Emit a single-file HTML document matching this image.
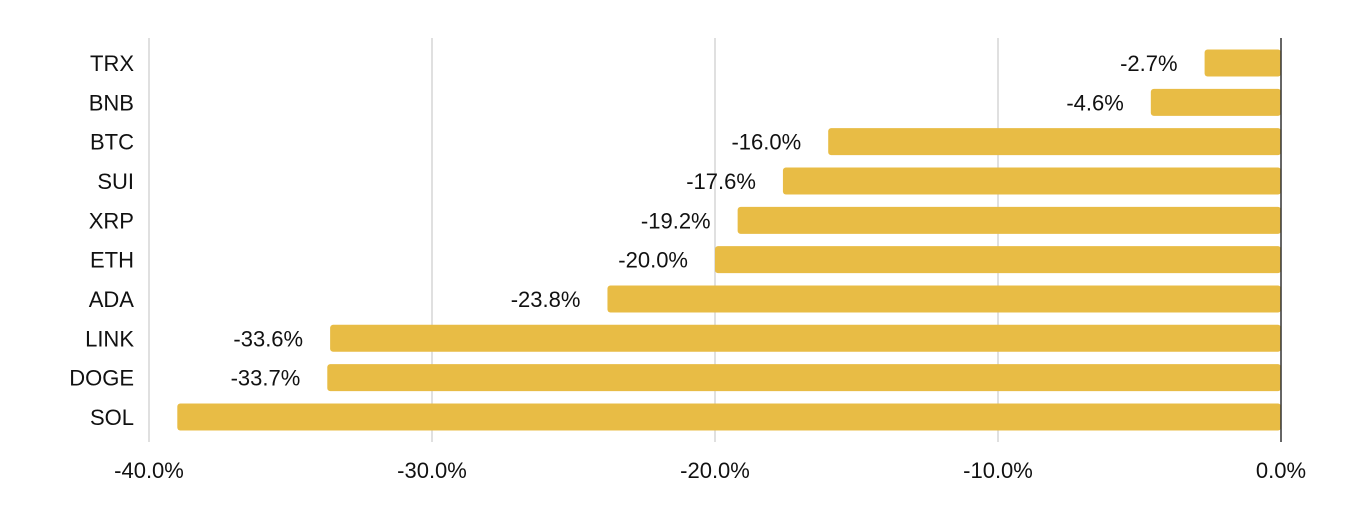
<!DOCTYPE html>
<html><head><meta charset="utf-8"><style>
body{margin:0;background:#fff;font-family:"Liberation Sans",Arial,sans-serif;}
svg{display:block}
</style></head><body>
<svg id="chart" width="1356" height="524"></svg>
<script>
const categories=["TRX","BNB","BTC","SUI","XRP","ETH","ADA","LINK","DOGE","SOL"];
const values=[-2.7,-4.6,-16.0,-17.6,-19.2,-20.0,-23.8,-33.6,-33.7,-39.0];
const showLabel=[true,true,true,true,true,true,true,true,true,false];
const ticks=[-40,-30,-20,-10,0];
const NS="http://www.w3.org/2000/svg";
const svg=document.getElementById("chart");
const x0=149,x1=1281,plotTop=38,plotBottom=442;
const xs=v=>x1+(v/40)*(x1-x0);
const rowY=i=>63+i*39.33;
function el(t,a){const e=document.createElementNS(NS,t);for(const k in a)e.setAttribute(k,a[k]);svg.appendChild(e);return e;}
ticks.forEach(t=>{
  if(t!==0){
    const g=el("line",{x1:xs(t),x2:xs(t),y1:plotTop,y2:plotBottom,stroke:"#ccc","stroke-width":1.2});
    
    
  }
  const l=el("text",{x:xs(t),y:478,"text-anchor":"middle","font-size":22,fill:"#111"});
  l.textContent=t.toFixed(1)+"%";
  
  
});
categories.forEach((c,i)=>{
  const y=rowY(i),v=values[i];
  const t=el("text",{x:134,y:y+8,"text-anchor":"end","font-size":22,fill:"#111"});
  t.textContent=c;
  
  
  const b=el("rect",{x:xs(v),y:y-13.5,width:x1-xs(v),height:27,rx:3,fill:"#E8BC45"});
  
  
  if(showLabel[i]){
    const vl=el("text",{x:xs(v)-27,y:y+8,"text-anchor":"end","font-size":22,fill:"#111"});
    vl.textContent=v.toFixed(1)+"%";
    
    
  }
});
const z=el("line",{x1:x1,x2:x1,y1:plotTop,y2:plotBottom,stroke:"#333","stroke-width":1.5});


</script>
</body></html>
